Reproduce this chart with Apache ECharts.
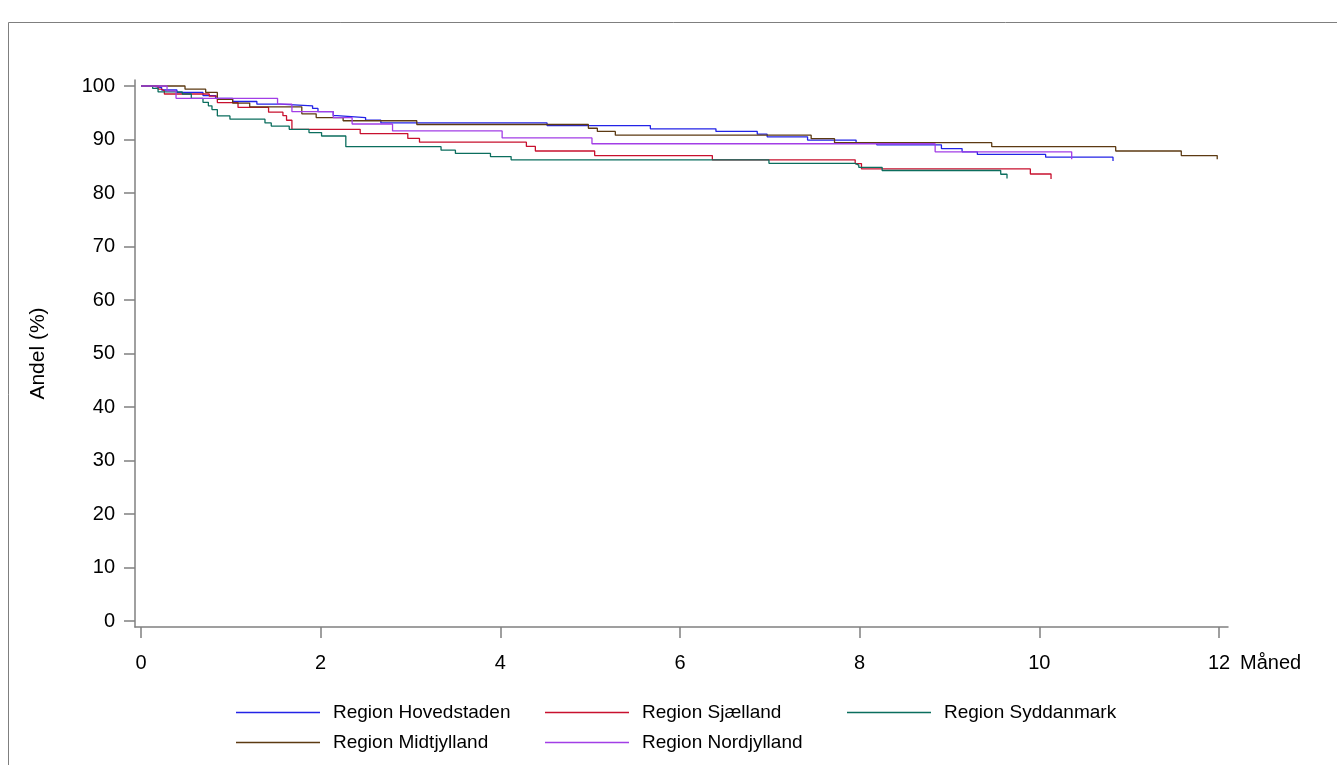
<!DOCTYPE html>
<html>
<head>
<meta charset="utf-8">
<script src="https://cdn.jsdelivr.net/npm/echarts@6/dist/echarts.min.js"></script>
<style>
html,body{margin:0;padding:0;background:#fff;}
#chart{width:1337px;height:765px;}
</style>
</head>
<body>
<div id="chart"></div>
<script>
// Tick labels
const xTicks = [0, 2, 4, 6, 8, 10, 12];
const yTicks = [0, 10, 20, 30, 40, 50, 60, 70, 80, 90, 100];

// Series names
const seriesNames = ['Region Hovedstaden', 'Region Sjælland', 'Region Syddanmark', 'Region Midtjylland', 'Region Nordjylland'];

// Kaplan-Meier step data: time (months) and survival (%)
const hovedTime = [0, 0.13, 0.23, 0.40, 0.69, 0.83, 1.02, 1.29, 1.55, 1.91, 1.97, 2.14, 2.18, 2.50, 2.67, 4.52, 5.67, 6.40, 6.86, 6.97, 7.42, 7.96, 8.19, 8.91, 9.14, 9.31, 10.07, 10.82];
const hovedSurv = [100, 99.7, 99.25, 98.8, 98.2, 97.7, 97.1, 96.6, 96.3, 95.8, 95.2, 94.45, 94.1, 93.6, 93.1, 92.6, 92.0, 91.5, 91.0, 90.5, 89.9, 89.4, 89.0, 88.3, 87.7, 87.2, 86.7, 86.0];

const sjaeTime = [0, 0.19, 0.23, 0.26, 0.76, 0.85, 1.08, 1.42, 1.58, 1.62, 1.68, 2.44, 2.97, 3.10, 4.29, 4.39, 5.05, 6.36, 7.95, 8.02, 9.90, 10.13];
const sjaeSurv = [100, 99.4, 99.1, 98.5, 98.1, 96.9, 96.0, 95.1, 94.45, 93.6, 91.9, 91.1, 90.2, 89.5, 88.7, 87.85, 87.0, 86.2, 85.5, 84.5, 83.55, 82.6];

const syddTime = [0, 0.13, 0.19, 0.46, 0.56, 0.69, 0.75, 0.79, 0.85, 0.99, 1.38, 1.45, 1.65, 1.87, 2.01, 2.28, 3.34, 3.50, 3.89, 4.12, 6.99, 7.95, 7.99, 8.25, 9.57, 9.64];
const syddSurv = [100, 99.55, 98.9, 98.5, 97.7, 96.95, 96.3, 95.6, 94.4, 93.8, 93.1, 92.5, 91.9, 91.3, 90.65, 88.65, 88.0, 87.4, 86.8, 86.2, 85.55, 85.2, 84.8, 84.2, 83.5, 82.7];

const midtTime = [0, 0.49, 0.72, 0.85, 1.02, 1.21, 1.79, 1.95, 2.25, 3.07, 4.98, 5.08, 5.28, 7.46, 7.72, 9.47, 10.85, 11.58, 11.98];
const midtSurv = [100, 99.4, 98.8, 97.5, 96.8, 96.1, 94.8, 94.1, 93.5, 92.8, 92.1, 91.5, 90.8, 90.15, 89.4, 88.65, 87.85, 87.0, 86.3];

const nordTime = [0, 0.29, 0.39, 1.52, 1.68, 2.14, 2.35, 2.80, 4.02, 5.02, 8.84, 10.36];
const nordSurv = [100, 99.07, 97.7, 96.6, 95.2, 94.1, 92.9, 91.6, 90.3, 89.2, 87.7, 86.3];

const colors = ['#2323e6', '#c8102e', '#0b6e5e', '#5c3a12', '#a23ee6'];

const zip = (t, s) => t.map((v, i) => [v, s[i]]);
const allData = [
  zip(hovedTime, hovedSurv),
  zip(sjaeTime, sjaeSurv),
  zip(syddTime, syddSurv),
  zip(midtTime, midtSurv),
  zip(nordTime, nordSurv)
];

const font = 'Liberation Sans, Arial, sans-serif';
const axisGray = '#808080';

const chart = echarts.init(document.getElementById('chart'), null, {renderer: 'canvas'});

const legendPos = [
  {left: 236, top: 703},
  {left: 545, top: 703},
  {left: 847, top: 703},
  {left: 236, top: 733},
  {left: 545, top: 733}
];

chart.setOption({
  animation: false,
  backgroundColor: '#ffffff',
  graphic: [{
    type: 'rect',
    z: 0,
    silent: true,
    shape: {x: 8.5, y: 22.5, width: 1400, height: 800},
    style: {fill: 'none', stroke: '#7f7f7f', lineWidth: 1}
  }],
  grid: {left: 135, right: 109, top: 80, bottom: 138, containLabel: false},
  xAxis: {
    type: 'value',
    min: -0.0668,
    max: 12.10,
    name: 'Måned',
    nameLocation: 'end',
    nameGap: 12,
    nameTextStyle: {fontFamily: font, fontSize: 20, color: '#000', verticalAlign: 'top', padding: [26, 0, 0, 0]},
    axisLine: {show: true, onZero: false, lineStyle: {color: axisGray, width: 1.5}},
    axisTick: {show: true, length: 11, customValues: xTicks, lineStyle: {color: axisGray, width: 1.5}},
    axisLabel: {customValues: xTicks, margin: 26, fontFamily: font, fontSize: 20, color: '#000'},
    splitLine: {show: false}
  },
  yAxis: {
    type: 'value',
    min: -1.12,
    max: 101.12,
    name: 'Andel (%)',
    nameLocation: 'middle',
    nameGap: 86,
    nameTextStyle: {fontFamily: font, fontSize: 21, color: '#000'},
    axisLine: {show: true, onZero: false, lineStyle: {color: axisGray, width: 1.5}},
    axisTick: {show: true, length: 11, customValues: yTicks, lineStyle: {color: axisGray, width: 1.5}},
    axisLabel: {customValues: yTicks, margin: 20, fontFamily: font, fontSize: 20, color: '#000'},
    splitLine: {show: false}
  },
  legend: seriesNames.map((n, i) => ({
    data: [{name: n, icon: 'rect', itemStyle: {color: colors[i]}}],
    left: legendPos[i].left,
    top: legendPos[i].top,
    padding: 0,
    itemWidth: 84,
    itemHeight: 1.4,
    selectedMode: false,
    textStyle: {fontFamily: font, fontSize: 19, color: '#000', padding: [0, 0, 0, 8]}
  })),
  series: seriesNames.map((n, i) => ({
    name: n,
    type: 'line',
    step: 'end',
    symbol: 'none',
    color: colors[i],
    lineStyle: {width: 1.3, color: colors[i]},
    data: allData[i],
    z: 5
  }))
});
</script>
</body>
</html>
